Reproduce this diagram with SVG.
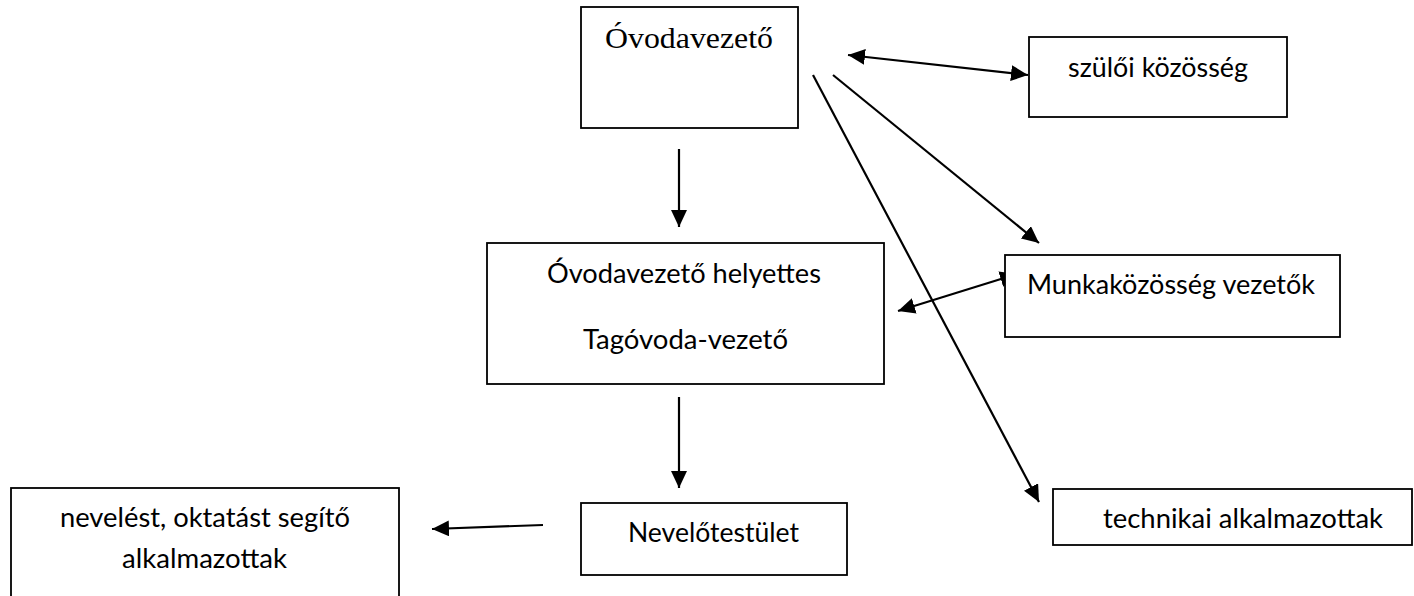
<svg xmlns="http://www.w3.org/2000/svg" width="1414" height="596" viewBox="0 0 1414 596">
<style>
.box{fill:#fff;stroke:#000;stroke-width:1.8}
.lbl{font-family:Lato,"Open Sans",sans-serif;font-size:27px;fill:#000}
.serif{font-family:"Liberation Serif","Times New Roman",serif;font-size:30px;fill:#000}
.con{stroke:#000;stroke-width:2.2;fill:none}
.arr{marker-end:url(#ah)}
.dbl{marker-start:url(#ah);marker-end:url(#ah)}
</style>
<defs>
<marker id="ah" markerUnits="userSpaceOnUse" markerWidth="18" markerHeight="16" refX="17" refY="8" orient="auto-start-reverse" viewBox="0 0 18 16">
<path d="M0,0 L17,8 L0,16 z" fill="#000"/>
</marker>
</defs>
<rect width="1414" height="596" fill="#fff"/>
<g id="connectors">
<line class="con arr" x1="679" y1="149" x2="679" y2="227"/>
<line class="con arr" x1="679" y1="397" x2="679" y2="488"/>
<line class="con arr" x1="543" y1="525" x2="432" y2="529"/>
<line class="con dbl" x1="848" y1="55" x2="1028" y2="75"/>
<line class="con arr" x1="833" y1="75" x2="1039" y2="243"/>
<line class="con arr" x1="813" y1="75" x2="1039" y2="502"/>
<line class="con dbl" x1="898" y1="311" x2="1017" y2="274"/>
</g>
<g id="ovodavezeto">
<rect class="box" x="581" y="7" width="217" height="121"/>
<text class="serif" x="605" y="48" textLength="168" lengthAdjust="spacingAndGlyphs">Óvodavezető</text>
</g>
<g id="szuloi">
<rect class="box" x="1029" y="37" width="258" height="80"/>
<text class="lbl" x="1068" y="77" textLength="180" lengthAdjust="spacingAndGlyphs">szülői közösség</text>
</g>
<g id="helyettes">
<rect class="box" x="487" y="243" width="397" height="141"/>
<text class="lbl" x="547" y="283" textLength="274" lengthAdjust="spacingAndGlyphs">Óvodavezető helyettes</text>
<text class="lbl" x="583" y="349" textLength="205" lengthAdjust="spacingAndGlyphs">Tagóvoda-vezető</text>
</g>
<g id="munkakozosseg">
<rect class="box" x="1005" y="255" width="335" height="82"/>
<text class="lbl" x="1027" y="294" textLength="288" lengthAdjust="spacingAndGlyphs">Munkaközösség vezetők</text>
</g>
<g id="nevelotestulet">
<rect class="box" x="581" y="503" width="266" height="72"/>
<text class="lbl" x="628" y="542" textLength="171" lengthAdjust="spacingAndGlyphs">Nevelőtestület</text>
</g>
<g id="segito">
<rect class="box" x="11" y="488" width="388" height="120"/>
<text class="lbl" x="60" y="527" textLength="290" lengthAdjust="spacingAndGlyphs">nevelést, oktatást segítő</text>
<text class="lbl" x="122" y="568" textLength="165" lengthAdjust="spacingAndGlyphs">alkalmazottak</text>
</g>
<g id="technikai">
<rect class="box" x="1053" y="489" width="359" height="56"/>
<text class="lbl" x="1103" y="528" textLength="280" lengthAdjust="spacingAndGlyphs">technikai alkalmazottak</text>
</g>
</svg>
